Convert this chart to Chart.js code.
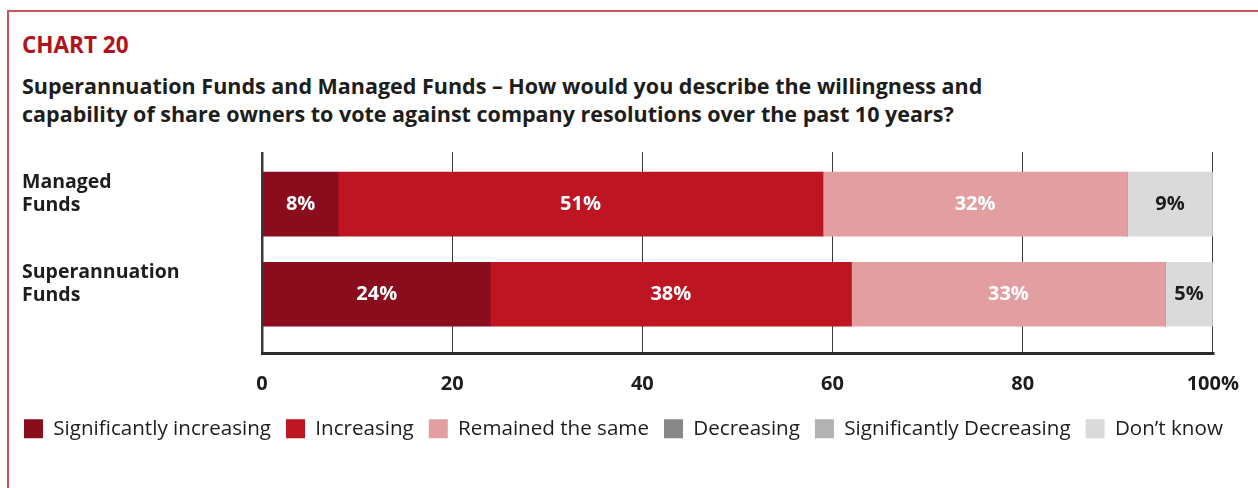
<!DOCTYPE html>
<html>
<head>
<meta charset="utf-8">
<script src="https://cdn.jsdelivr.net/npm/chart.js@4.4.1/dist/chart.umd.min.js"></script>
<style>
  body { margin: 0; background: #fff; font-family: "Open Sans", sans-serif; }
  #frame {
    position: absolute; left: 7px; top: 10px; width: 1300px; height: 500px;
    border-top: 2px solid #c9555a; border-left: 2px solid #c9555a;
  }
  #kicker {
    position: absolute; left: 22px; top: 30px; margin: 0;
    font-size: 22.5px; font-weight: 700; color: #b3121d; line-height: 30px;
  }
  #heading {
    position: absolute; left: 22px; top: 72px; margin: 0;
    font-size: 21.5px; font-weight: 700; color: #1d1d1b; line-height: 28px;
    white-space: nowrap;
  }
  #wrap { position: absolute; left: 0; top: 140px; width: 1258px; height: 348px; }
</style>
</head>
<body>
<div id="frame"></div>
<p id="kicker">CHART 20</p>
<p id="heading">Superannuation Funds and Managed Funds – How would you describe the willingness and<br>capability of share owners to vote against company resolutions over the past 10 years?</p>
<div id="wrap"><canvas id="chart"></canvas></div>

<script>
// categories (top to bottom)
var categories = [["Managed", "Funds"], ["Superannuation", "Funds"]];

// series, one value per category
var sigIncreasing = [8, 24];
var increasing = [51, 38];
var remainedSame = [32, 33];
var decreasing = [0, 0];
var sigDecreasing = [0, 0];
var dontKnow = [9, 5];

var xTicks = [0, 20, 40, 60, 80, 100];

var series = [
    { label: "Significantly increasing", data: sigIncreasing, color: "#8a0d1e", text: "#fff" },
    { label: "Increasing", data: increasing, color: "#bd1622", text: "#fff" },
    { label: "Remained the same", data: remainedSame, color: "#e29ea1", text: "#fff" },
    { label: "Decreasing", data: decreasing, color: "#878787", text: "#fff" },
    { label: "Significantly Decreasing", data: sigDecreasing, color: "#b2b2b2", text: "#fff" },
    { label: "Don\u2019t know", data: dontKnow, color: "#dadada", text: "#1d1d1b" }
];

var legendPad = 15;

// value labels inside each bar segment
var barLabels = {
    id: "barLabels",
    afterLayout: function (chart) {
        // pull the legend row left so it lines up under the category labels
        var shift = 22 + legendPad - 24;
        chart.legend.left -= shift;
        chart.legend.right -= shift;
    },
    afterDatasetsDraw: function (chart) {
        var ctx = chart.ctx;
        ctx.save();
        ctx.font = "700 20px 'Open Sans'";
        ctx.textAlign = "center";
        ctx.textBaseline = "middle";
        chart.data.datasets.forEach(function (ds, i) {
            chart.getDatasetMeta(i).data.forEach(function (bar, j) {
                var v = ds.data[j].x;
                if (!v) return;
                ctx.fillStyle = series[i].text;
                ctx.fillText(v + "%", (bar.x + bar.base) / 2, bar.y);
            });
        });
        ctx.restore();
    }
};

new Chart(document.getElementById("chart"), {
    type: "bar",
    data: {
        datasets: series.map(function (s) {
            return {
                label: s.label,
                data: s.data.map(function (v, i) { return { x: v, y: i }; }),
                backgroundColor: s.color,
                borderWidth: 0,
                barThickness: 64
            };
        })
    },
    options: {
        indexAxis: "y",
        responsive: true,
        maintainAspectRatio: false,
        animation: false,
        layout: { padding: { left: 22, right: 3, top: 12, bottom: 39 } },
        scales: {
            x: {
                type: "linear",
                stacked: true,
                min: 0,
                max: 100,
                afterBuildTicks: function (axis) {
                    axis.ticks = xTicks.map(function (v) { return { value: v }; });
                },
                afterFit: function (axis) { axis.height = 50; },
                grid: {
                    color: "#3a3a3a",
                    lineWidth: function (c) { return c.tick && c.tick.value === 0 ? 2.5 : 1; },
                    drawTicks: false
                },
                border: { display: true, color: "#2b2b2b", width: 3 },
                ticks: {
                    padding: 19,
                    color: "#1d1d1b",
                    font: { family: "Open Sans", size: 20, weight: "700" },
                    callback: function (v) { return v === 100 ? "100%" : v; }
                }
            },
            y: {
                type: "linear",
                stacked: true,
                reverse: true,
                offset: false,
                min: -0.578,
                max: 1.656,
                afterBuildTicks: function (axis) {
                    axis.ticks = categories.map(function (c, i) { return { value: i }; });
                },
                afterFit: function (axis) {
                    axis.width = 240;
                    axis.paddingTop = 0;
                    axis.paddingBottom = 0;
                },
                grid: { display: false },
                border: { display: false },
                ticks: {
                    crossAlign: "far",
                    padding: 0,
                    labelOffset: -10,
                    color: "#1d1d1b",
                    font: { family: "Open Sans", size: 19.5, weight: "700", lineHeight: 1.18 },
                    callback: function (v) { return categories[v]; }
                }
            },
            // empty right-hand strip so the plot ends at 100 while the legend can use the full width
            spacer: {
                type: "linear",
                position: "right",
                grid: { display: false },
                border: { display: false },
                ticks: { display: false },
                afterFit: function (axis) { axis.width = 36; }
            }
        },
        plugins: {
            legend: {
                position: "bottom",
                align: "start",
                labels: {
                    boxWidth: 19,
                    boxHeight: 19,
                    padding: legendPad,
                    color: "#1d1d1b",
                    font: { family: "Open Sans", size: 20.6 }
                }
            },
            tooltip: { enabled: false }
        }
    },
    plugins: [barLabels]
});
</script>
</body>
</html>
